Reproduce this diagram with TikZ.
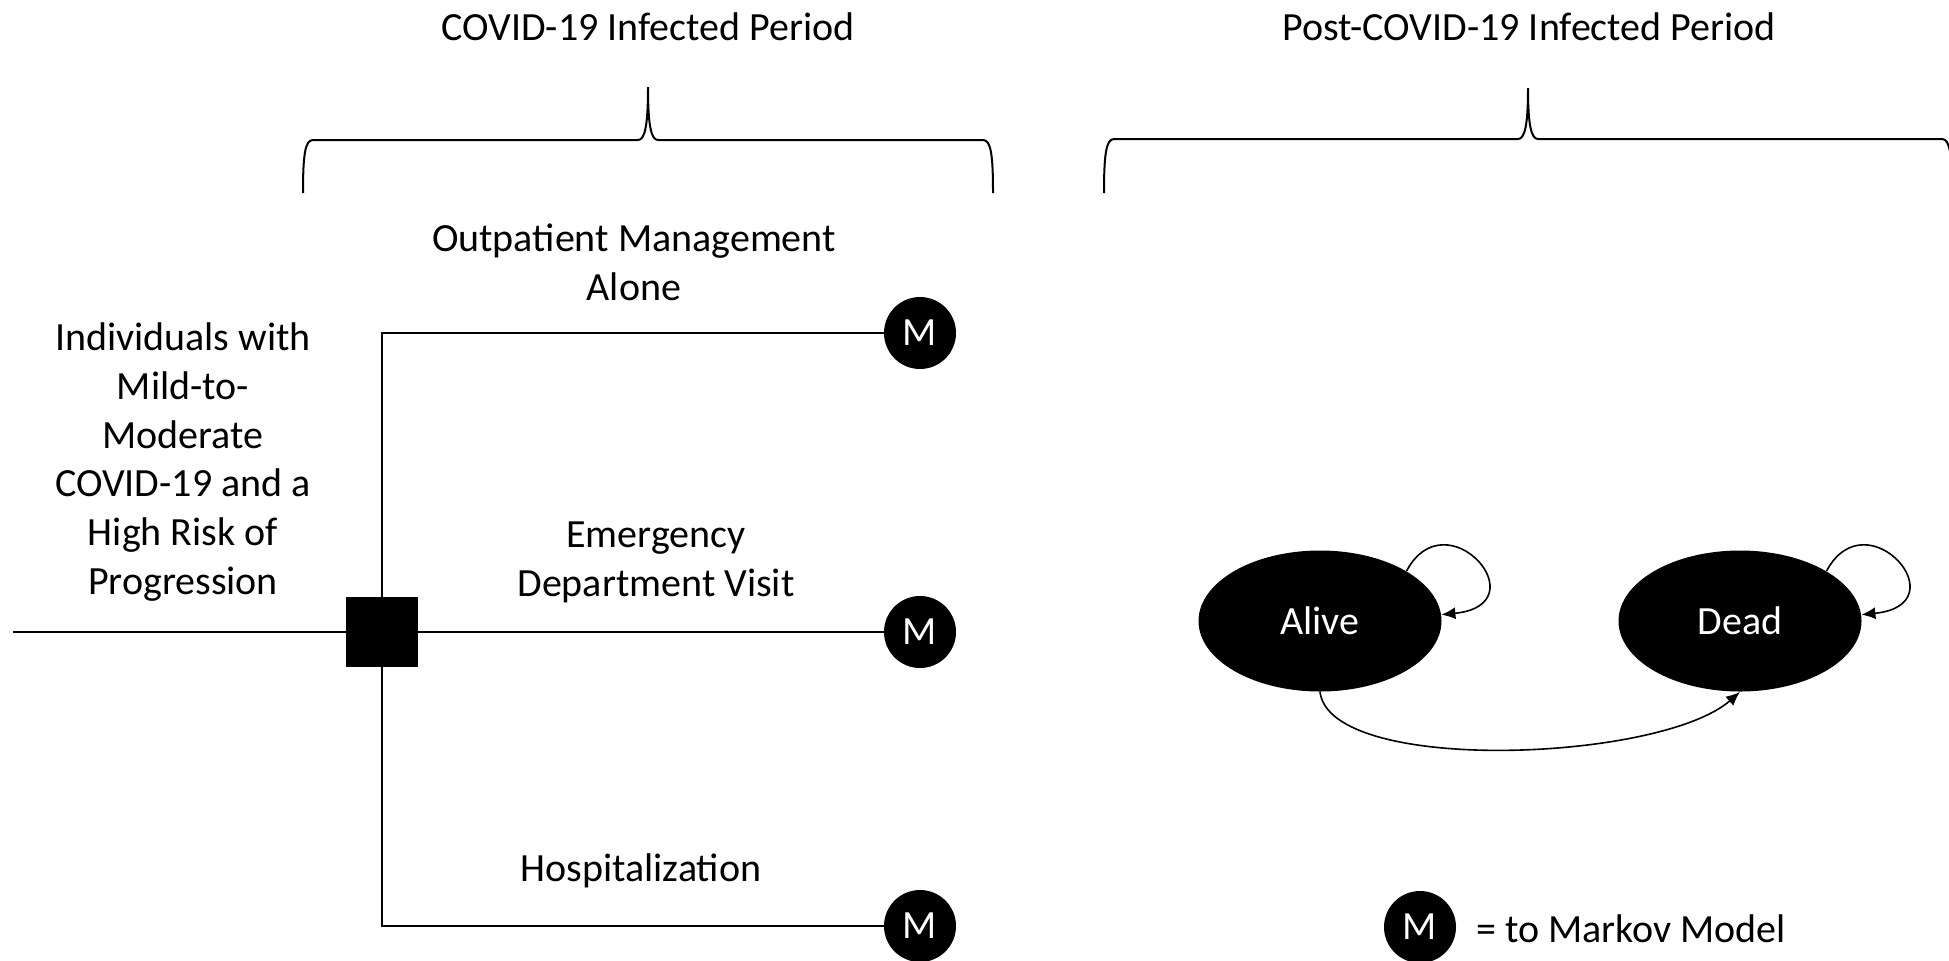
\documentclass[tikz,border=0pt]{standalone}
\usepackage{fontspec}
\setmainfont{Carlito}
\usetikzlibrary{shapes.geometric,arrows.meta}
\begin{document}
\begin{tikzpicture}[x=0.5pt,y=-0.5pt,
  lbl/.style={font=\fontsize{20}{24.4}\selectfont, align=center, inner sep=0pt},
  mnode/.style={circle, fill=black, minimum size=36pt, inner sep=0pt, text=white, font=\fontsize{20}{24}\selectfont},
  stnode/.style={ellipse, fill=black, minimum width=121.5pt, minimum height=70.5pt, inner sep=0pt, text=white, font=\fontsize{20}{24}\selectfont},
  decnode/.style={rectangle, fill=black, minimum width=36pt, minimum height=35pt, inner sep=0pt},
  conn/.style={line width=1pt},
  arr/.style={line width=0.8pt, -{Latex[length=7pt,width=6pt]}},
  bracestyle/.style={line width=1pt}]
\useasboundingbox (0,0) rectangle (1949,960);
\clip (0,0) rectangle (1949,960);

% titles
\node[lbl] (t1) at (648,27) {COVID-19 Infected Period};
\node[lbl] (t2) at (1529,27) {Post-COVID-19 Infected Period};

% braces
\draw[bracestyle] (303,193) .. controls (303,155) and (305,140) .. (313,140) -- (638,140)
  .. controls (645,140) and (648,125) .. (648,87) .. controls (648,125) and (651,140) .. (658,140)
  -- (983,140) .. controls (991,140) and (993,155) .. (993,193);
\draw[bracestyle] (1104,193) .. controls (1104,155) and (1106,139) .. (1114,139) -- (1518,139)
  .. controls (1525,139) and (1528,124) .. (1528,88) .. controls (1528,124) and (1531,139) .. (1538,139)
  -- (1942,139) .. controls (1950,139) and (1952,155) .. (1952,193);

% decision tree
\node[decnode] (dec) at (382,632) {};
\node[mnode] (m1) at (920,333) {M};
\node[mnode] (m2) at (920,632) {M};
\node[mnode] (m3) at (920,926) {M};
\coordinate (in) at (13,632);
\draw[conn] (in) -- (dec.west);
\draw[conn] (dec.north) |- (m1.west);
\draw[conn] (dec.east) -- (m2.west);
\draw[conn] (dec.south) |- (m3.west);

\node[lbl] (pop) at (183,462) {Individuals with\\Mild-to-\\Moderate\\COVID-19 and a\\High Risk of\\Progression};
\node[lbl] (l1) at (634,262) {Outpatient Management\\Alone};
\node[lbl] (l2) at (656,562) {Emergency\\Department Visit};
\node[lbl] (l3) at (641,871) {Hospitalization};

% Markov model
\node[stnode] (alive) at (1320,621) {Alive};
\node[stnode] (dead) at (1740,621) {Dead};
\draw[arr] (alive.30) .. controls +(40,-75) and +(100,-10) .. (alive.3);
\draw[arr] (dead.30) .. controls +(40,-75) and +(100,-10) .. (dead.3);
\draw[arr] (alive.south) .. controls +(10,83) and +(-80,70) .. (dead.south);

% legend
\node[mnode] (lm) at (1420,927) {M};
\node[lbl, anchor=west] (lt) at (1476,929) {= to Markov Model};
\end{tikzpicture}
\end{document}
